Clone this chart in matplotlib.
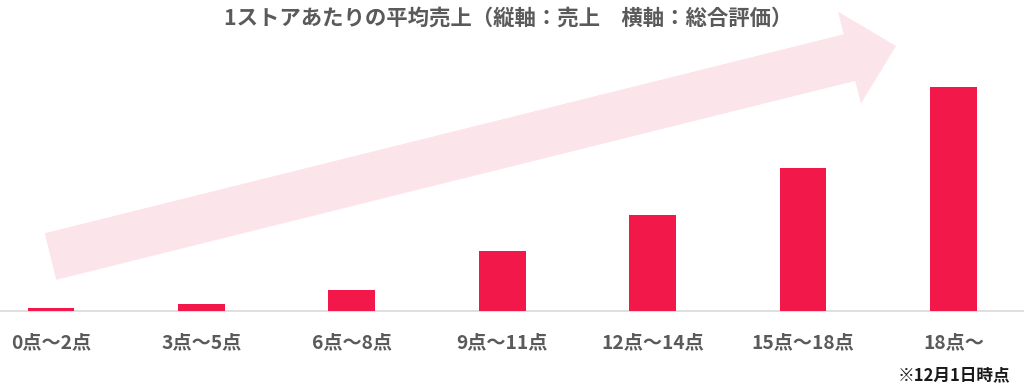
import matplotlib
matplotlib.use("Agg")
import matplotlib.pyplot as plt
from matplotlib.patches import FancyArrow

plt.rcParams['font.family'] = ['Noto Sans CJK JP', 'DejaVu Sans']

# 総合評価ごとの1ストアあたり平均売上 (相対値, 画像から読み取り)
categories = ['0点〜2点', '3点〜5点', '6点〜8点', '9点〜11点', '12点〜14点', '15点〜18点', '18点〜']
sales = [3, 7, 21, 60, 96, 143, 224]

bar_color = '#f2184a'
gray = '#5a5a5a'

fig = plt.figure(figsize=(10.24, 3.91), dpi=100)
ax = fig.add_axes([0, 0.2046, 1, 0.693])

x = range(len(categories))
ax.bar(x, sales, width=0.31, color=bar_color, zorder=3)
ax.set_xlim(-0.339, 6.469)
ax.set_ylim(0, 271)

ax.set_xticks(list(x))
ax.set_xticklabels(categories, fontsize=13.8, fontweight='bold', color=gray)
ax.tick_params(axis='x', length=0, pad=16)
ax.set_yticks([])
for s in ['top', 'left', 'right']:
    ax.spines[s].set_visible(False)
ax.spines['bottom'].set_color('#d9d9d9')
ax.spines['bottom'].set_linewidth(1.2)
ax.patch.set_alpha(0)

# 右上がりの矢印 (装飾)
arrow = FancyArrow(0.505, (391 - 256.5) / 100, 8.455, 2.105,
                   width=0.48, head_width=0.95, head_length=0.48,
                   length_includes_head=True, color='#fce5ea', lw=0,
                   transform=fig.dpi_scale_trans, zorder=0)
fig.add_artist(arrow)

fig.text(0.496, 0.954, '1ストアあたりの平均売上（縦軸：売上　横軸：総合評価）',
         ha='center', va='center', fontsize=15.4, fontweight='bold', color=gray)
fig.text(0.987, 1 - 375 / 391, '※12月1日時点', ha='right', va='center',
         fontsize=12, fontweight='bold', color='#1a1a1a')

fig.savefig('out.png', dpi=100)
